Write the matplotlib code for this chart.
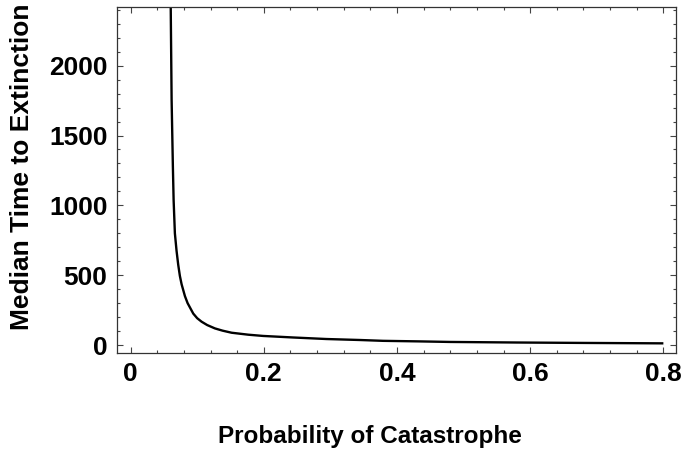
import numpy as np
import matplotlib
matplotlib.use("Agg")
import matplotlib.pyplot as plt
from matplotlib.ticker import MultipleLocator

# values
prob_catastrophe = [0.0602, 0.0616, 0.0635, 0.0646, 0.0665, 0.069, 0.0715, 0.074,
                    0.0766, 0.0816, 0.0856, 0.0941, 0.1, 0.1066, 0.115,
                    0.1266, 0.138, 0.1517, 0.1766, 0.199, 0.244, 0.294, 0.344,
                    0.379, 0.434, 0.48, 0.58, 0.68, 0.8]
median_time = [2450, 1755, 1277, 1039, 800, 675, 575, 495,
               435, 350, 300, 225, 192, 167, 143,
               119, 103, 88, 74, 65, 54, 43, 36,
               30, 26, 22, 18, 15, 12]

x_ticks = [0, 0.2, 0.4, 0.6, 0.8]
x_tick_labels = ["0", "0.2", "0.4", "0.6", "0.8"]
y_ticks = [0, 500, 1000, 1500, 2000]

plt.rcParams['font.family'] = ['Liberation Sans', 'DejaVu Sans']
plt.rcParams['font.weight'] = 'bold'

fig = plt.figure(figsize=(6.83, 4.53), dpi=100)
ax = fig.add_axes([0.1717, 0.2214, 0.9898 - 0.1717, 0.9839 - 0.2214])

ax.plot(prob_catastrophe, median_time, color='black', lw=1.7,
        solid_capstyle='butt', solid_joinstyle='round')

ax.set_xlim(-0.020, 0.819)
ax.set_ylim(-55, 2418)

ax.set_xticks(x_ticks)
ax.set_xticklabels(x_tick_labels)
ax.set_yticks(y_ticks)
ax.xaxis.set_minor_locator(MultipleLocator(0.04))
ax.yaxis.set_minor_locator(MultipleLocator(100))

ax.tick_params(which='both', direction='in', top=True, right=True,
               labelsize=19, width=0.8, color='#444444')
ax.tick_params(which='major', length=4, pad=7)
ax.tick_params(which='minor', length=2.5)
for lbl in ax.get_xticklabels() + ax.get_yticklabels():
    lbl.set_fontweight('bold')

for sp in ax.spines.values():
    sp.set_linewidth(0.9)
    sp.set_color('#333333')

ax.set_xlabel('Probability of Catastrophe', fontsize=17.5, fontweight='bold')
ax.set_ylabel('Median Time to Extinction', fontsize=19, fontweight='bold')
ax.xaxis.set_label_coords(0.453, -0.244)
ax.xaxis.label.set_va('center')
ax.yaxis.set_label_coords(-0.171, 0.539)
ax.yaxis.label.set_va('center')

fig.savefig('out.png', dpi=100)
